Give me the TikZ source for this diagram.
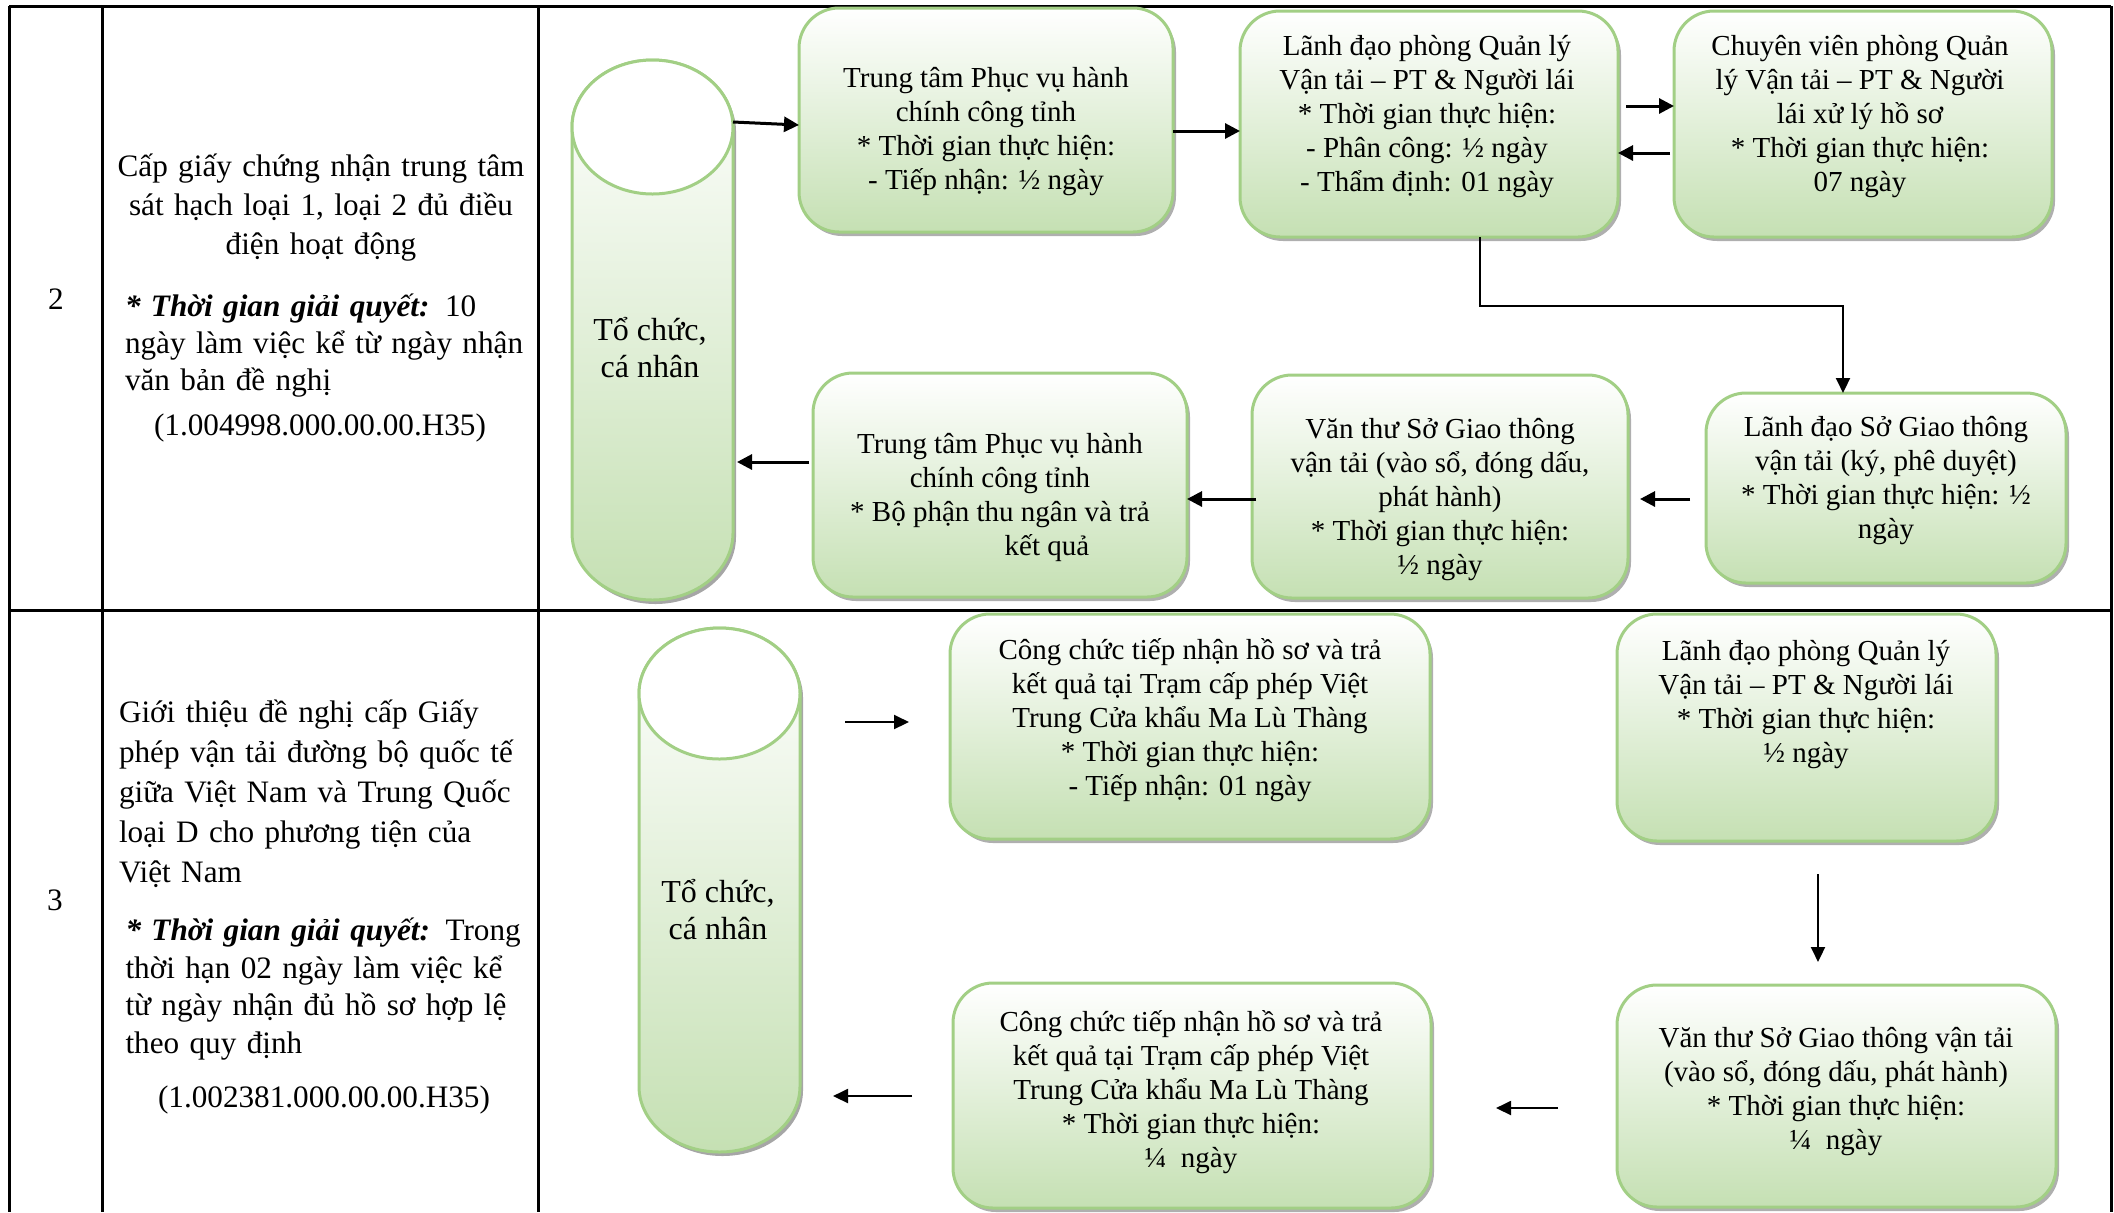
\documentclass[tikz,border=0pt]{standalone}
\usepackage{fontspec}
\setmainfont{Liberation Serif}
\usetikzlibrary{arrows.meta,shadows}
\definecolor{boxgreen}{HTML}{C5E0B3}
\definecolor{edgegreen}{HTML}{A2CF85}
\definecolor{shadowgray}{HTML}{A6A6A6}
\begin{document}
\begin{tikzpicture}[x=0.5pt, y=-0.5pt,
  every node/.style={inner sep=0pt, outer sep=0pt},
  stepbox/.style={draw=edgegreen, line width=1.5pt, rounded corners=20pt, top color=white, bottom color=boxgreen,
     drop shadow={shadow xshift=1.5pt, shadow yshift=-2pt, fill=shadowgray, opacity=0.9}},
  boxtxt/.style={align=center, font=\fontsize{14.5}{17}\selectfont},
  coltxt/.style={font=\fontsize{15.6}{19.5}\selectfont},
  cyltxt/.style={align=center, font=\fontsize{16}{18.5}\selectfont},
  tbl/.style={line width=1.5pt},
  arrA/.style={line width=1.5pt, -{Triangle[length=7.5pt,width=7.5pt]}},
  arrB/.style={line width=1pt, -{Triangle[length=7.5pt,width=7pt]}},
  cylbody/.style={draw=edgegreen, line width=1.5pt, top color=white, bottom color=boxgreen},
  cylend/.style={draw=edgegreen, line width=1.5pt, fill=white},
]
\useasboundingbox (0,0) rectangle (2114,1212);

% ---------------- table ----------------
\draw[tbl] (9,6) -- (2111,6);
\draw[tbl] (9,610) -- (2111,610);
\draw[tbl] (9,6) -- (9,1212);
\draw[tbl] (102,6) -- (102,1212);
\draw[tbl] (538,6) -- (538,1212);
\draw[tbl] (2111,6) -- (2111,1212);

% ---------------- row "2" text ----------------
\node[coltxt] (n2) at (56,299) {2};
\node[coltxt, text width=230pt, align=center] (r1title) at (321,208)
  {Cấp giấy chứng nhận trung tâm\\sát hạch loại 1, loại 2 đủ điều\\điện hoạt động};
\node[coltxt, text width=199pt, align=left, font=\fontsize{15.6}{18.5}\selectfont] (r1time) at (324,346)
  {\makebox[199pt][s]{\textbf{\textit{* Thời gian giải quyết:}} 10}\\
   \makebox[199pt][s]{ngày làm việc kể từ ngày nhận}\\
   văn bản đề nghị};
\node[coltxt] (r1code) at (320,428) {(1.004998.000.00.00.H35)};

% ---------------- cylinder 1 ----------------
\node[minimum width=80.5pt, minimum height=270pt] (cyl1) at (652.5,330) {};
\begin{scope}[shift={(1.5pt,-2pt)}]
\fill[shadowgray] (572,127) -- (572,533) arc[start angle=180, end angle=360, x radius=40.25pt, y radius=33.5pt]
  -- (733,127) arc[start angle=0, end angle=180, x radius=40.25pt, y radius=33.5pt] -- cycle;
\end{scope}
\path[cylbody] (572,127) -- (572,533) arc[start angle=180, end angle=360, x radius=40.25pt, y radius=33.5pt]
  -- (733,127) arc[start angle=0, end angle=180, x radius=40.25pt, y radius=33.5pt] -- cycle;
\draw[cylend] (652.5,127) ellipse[x radius=40.25pt, y radius=33.5pt];
\node[cyltxt] (cyl1t) at (650,348) {Tổ chức,\\cá nhân};

% ---------------- boxes row 1 ----------------
\node[stepbox, minimum width=187pt, minimum height=112pt] (b1) at (986,120) {};
\node[boxtxt] (b1t) at (986,132) {Trung tâm Phục vụ hành\\chính công tỉnh\\* Thời gian thực hiện:\\- Tiếp nhận: ½ ngày};

\node[stepbox, minimum width=189pt, minimum height=113pt] (b2) at (1429,124) {};
\node[boxtxt] (b2t) at (1427,117) {Lãnh đạo phòng Quản lý\\Vận tải – PT \& Người lái\\* Thời gian thực hiện:\\- Phân công: ½ ngày\\- Thẩm định: 01 ngày};

\node[stepbox, minimum width=189pt, minimum height=113pt] (b3) at (1863,124) {};
\node[boxtxt] (b3t) at (1860,117) {Chuyên viên phòng Quản\\lý Vận tải – PT \& Người\\lái xử lý hồ sơ\\* Thời gian thực hiện:\\07 ngày};

\node[stepbox, minimum width=180pt, minimum height=95pt] (b4) at (1886,488) {};
\node[boxtxt] (b4t) at (1886,481) {Lãnh đạo Sở Giao thông\\vận tải (ký, phê duyệt)\\* Thời gian thực hiện: ½\\ngày};

\node[stepbox, minimum width=188pt, minimum height=111.5pt] (b5) at (1440,486.5) {};
\node[boxtxt] (b5t) at (1440,500) {Văn thư Sở Giao thông\\vận tải (vào sổ, đóng dấu,\\phát hành)\\* Thời gian thực hiện:\\½ ngày};

\node[stepbox, minimum width=187pt, minimum height=112pt] (b6) at (1000,485) {};
\node[boxtxt] (b6t) at (1000,497) {Trung tâm Phục vụ hành\\chính công tỉnh\\* Bộ phận thu ngân và trả\\\hspace*{47pt}kết quả};

% ---------------- connectors row 1 ----------------
\draw[arrA] (cyl1.east |- 0,122) -- (b1.west |- 0,125);
\draw[arrA] (b1.east |- 0,131) -- (b2.west |- 0,131);
\draw[arrA, shorten <=4pt] (b2.east |- 0,106) -- (b3.west |- 0,106);
\draw[arrA, shorten <=2pt] (b3.west |- 0,153) -- (b2.east |- 0,153);
\draw[arrB] ([xshift=25.5pt]b2.south) -- ++(0,69) -| ([xshift=-21.5pt]b4.north);
\draw[arrA, shorten <=8pt, shorten >=6pt] (b4.west |- 0,499) -- (b5.east |- 0,499);
\draw[arrA, shorten <=-2pt] (b5.west |- 0,499) -- (b6.east |- 0,499);
\draw[arrA, shorten <=2pt, shorten >=2pt] (b6.west |- 0,462) -- (cyl1.east |- 0,462);

% ---------------- row "3" text ----------------
\node[coltxt] (n3) at (55,900) {3};
\node[coltxt, text width=202pt, align=left, font=\fontsize{15.6}{20}\selectfont] (r2title) at (321,794)
  {\makebox[202pt][s]{Giới thiệu đề nghị cấp Giấy}\\
   \makebox[202pt][s]{phép vận tải đường bộ quốc tế}\\
   \makebox[202pt][s]{giữa Việt Nam và Trung Quốc}\\
   \makebox[202pt][s]{loại D cho phương tiện của}\\
   Việt Nam};
\node[coltxt, text width=199pt, align=left, font=\fontsize{15.6}{18.7}\selectfont] (r2time) at (324.5,989)
  {\makebox[199pt][s]{\textbf{\textit{* Thời gian giải quyết:}} Trong}\\
   \makebox[199pt][s]{thời hạn 02 ngày làm việc kể}\\
   \makebox[199pt][s]{từ ngày nhận đủ hồ sơ hợp lệ}\\
   theo quy định};
\node[coltxt] (r2code) at (324,1100) {(1.002381.000.00.00.H35)};

% ---------------- cylinder 2 ----------------
\node[minimum width=80.5pt, minimum height=262pt] (cyl2) at (719.5,890) {};
\begin{scope}[shift={(1.5pt,-2pt)}]
\fill[shadowgray] (639,693.5) -- (639,1086.5) arc[start angle=180, end angle=360, x radius=40.25pt, y radius=32.75pt]
  -- (800,693.5) arc[start angle=0, end angle=180, x radius=40.25pt, y radius=32.75pt] -- cycle;
\end{scope}
\path[cylbody] (639,693.5) -- (639,1086.5) arc[start angle=180, end angle=360, x radius=40.25pt, y radius=32.75pt]
  -- (800,693.5) arc[start angle=0, end angle=180, x radius=40.25pt, y radius=32.75pt] -- cycle;
\draw[cylend] (719.5,693.5) ellipse[x radius=40.25pt, y radius=32.75pt];
\node[cyltxt] (cyl2t) at (718,910) {Tổ chức,\\cá nhân};

% ---------------- boxes row 2 ----------------
\node[stepbox, minimum width=240pt, minimum height=112.5pt] (c1) at (1190,726.5) {};
\node[boxtxt] (c1t) at (1190,720) {Công chức tiếp nhận hồ sơ và trả\\kết quả tại Trạm cấp phép Việt\\Trung Cửa khẩu Ma Lù Thàng\\* Thời gian thực hiện:\\- Tiếp nhận: 01 ngày};

\node[stepbox, minimum width=189.5pt, minimum height=113.5pt] (c2) at (1806.5,727.5) {};
\node[boxtxt] (c2t) at (1806,705) {Lãnh đạo phòng Quản lý\\Vận tải – PT \& Người lái\\* Thời gian thực hiện:\\½ ngày};

\node[stepbox, minimum width=219.5pt, minimum height=111pt] (c3) at (1836.5,1096) {};
\node[boxtxt] (c3t) at (1836,1092) {Văn thư Sở Giao thông vận tải\\(vào sổ, đóng dấu, phát hành)\\* Thời gian thực hiện:\\¼\ \ ngày};

\node[stepbox, minimum width=239pt, minimum height=112.5pt] (c4) at (1192,1095.5) {};
\node[boxtxt] (c4t) at (1191,1092) {Công chức tiếp nhận hồ sơ và trả\\kết quả tại Trạm cấp phép Việt\\Trung Cửa khẩu Ma Lù Thàng\\* Thời gian thực hiện:\\¼\ \ ngày};

% ---------------- connectors row 2 ----------------
\draw[arrB, shorten <=22.5pt, shorten >=20.5pt] (cyl2.east |- 0,722) -- (c1.west |- 0,722);
\draw[arrB, shorten <=16.5pt, shorten >=11.5pt] (c2.south -| 1818,0) -- (c3.north -| 1818,0);
\draw[arrB, shorten <=29.5pt, shorten >=32.5pt] (c3.west |- 0,1108) -- (c4.east |- 0,1108);
\draw[arrB, shorten <=20.5pt, shorten >=16.5pt] (c4.west |- 0,1096) -- (cyl2.east |- 0,1096);
\end{tikzpicture}
\end{document}
